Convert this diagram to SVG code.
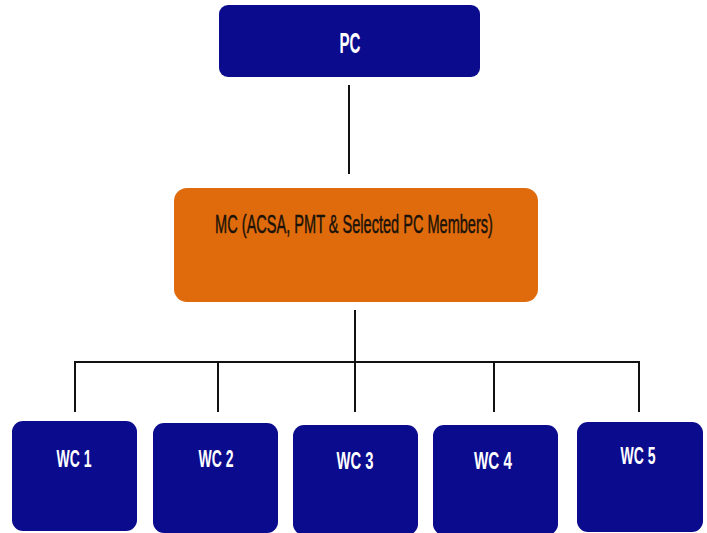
<svg xmlns="http://www.w3.org/2000/svg" width="707" height="533" viewBox="0 0 707 533">
<style>
.blue{fill:#0b0b8e}
.orange{fill:#e06b0d}
.wt{font-family:"Liberation Sans",Arial,sans-serif;font-weight:bold;fill:#ffffff;text-anchor:middle}
.mt{font-family:"Liberation Sans",Arial,sans-serif;fill:#1a1208;stroke:#1a1208;stroke-width:0.5;text-anchor:middle}
.ln{stroke:#111111;stroke-width:2;fill:none}
</style>
<rect width="707" height="533" fill="#ffffff"/>
<g id="connectors">
<line class="ln" x1="349" y1="85" x2="349" y2="174"/>
<line class="ln" x1="355" y1="310" x2="355" y2="362"/>
<line class="ln" x1="75" y1="362" x2="640" y2="362"/>
<line class="ln" x1="75" y1="361" x2="75" y2="412"/>
<line class="ln" x1="218" y1="361" x2="218" y2="412"/>
<line class="ln" x1="355" y1="361" x2="355" y2="412"/>
<line class="ln" x1="494" y1="361" x2="494" y2="412"/>
<line class="ln" x1="639" y1="361" x2="639" y2="412"/>
</g>
<g id="pc">
<rect class="blue" x="219" y="5" width="261" height="72" rx="9"/>
<text class="wt" x="350" y="53" font-size="30" textLength="21" lengthAdjust="spacingAndGlyphs">PC</text>
</g>
<g id="mc">
<rect class="orange" x="174" y="188" width="364" height="114" rx="13"/>
<g transform="translate(354,233) scale(0.62,1)">
<text class="mt" x="0" y="0" font-size="26" textLength="448" lengthAdjust="spacingAndGlyphs">MC (ACSA, PMT &amp; Selected PC Members)</text>
</g>
</g>
<g id="wc1">
<rect class="blue" x="12" y="421" width="125" height="110" rx="11"/>
<text class="wt" x="74" y="467" font-size="24" textLength="35" lengthAdjust="spacingAndGlyphs">WC 1</text>
</g>
<g id="wc2">
<rect class="blue" x="153" y="423" width="125" height="110" rx="11"/>
<text class="wt" x="216" y="467" font-size="24" textLength="35" lengthAdjust="spacingAndGlyphs">WC 2</text>
</g>
<g id="wc3">
<rect class="blue" x="293" y="425" width="125" height="110" rx="11"/>
<text class="wt" x="355" y="469" font-size="24" textLength="37" lengthAdjust="spacingAndGlyphs">WC 3</text>
</g>
<g id="wc4">
<rect class="blue" x="433" y="425" width="125" height="110" rx="11"/>
<text class="wt" x="493" y="469" font-size="24" textLength="38" lengthAdjust="spacingAndGlyphs">WC 4</text>
</g>
<g id="wc5">
<rect class="blue" x="577" y="422" width="126" height="110" rx="11"/>
<text class="wt" x="638" y="464" font-size="24" textLength="35" lengthAdjust="spacingAndGlyphs">WC 5</text>
</g>
</svg>
